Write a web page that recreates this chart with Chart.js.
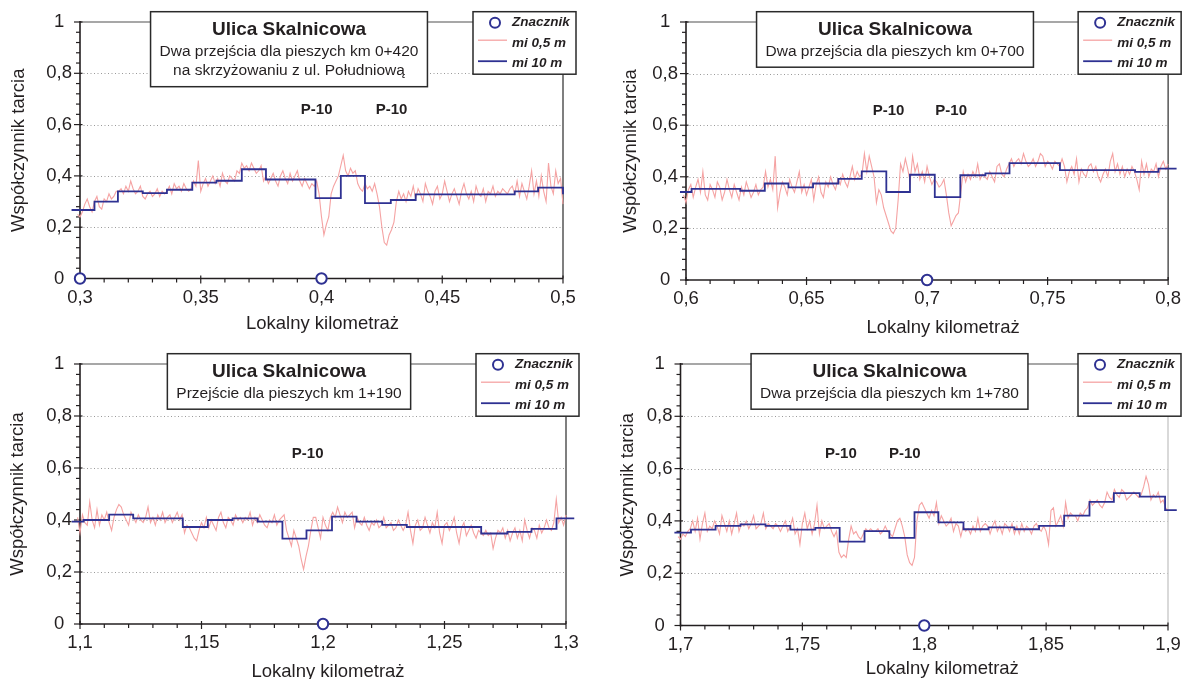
<!DOCTYPE html>
<html>
<head>
<meta charset="utf-8">
<title>Ulica Skalnicowa - współczynnik tarcia</title>
<script src="https://cdn.jsdelivr.net/npm/chart.js@4.4.1/dist/chart.umd.min.js"></script>
<style>
  body { margin: 0; background: #fff; }
  #wrap { position: relative; width: 1189px; height: 679px; overflow: hidden; }
  canvas { position: absolute; }
</style>
</head>
<body>
<div id="wrap">
  <canvas id="c1" width="594" height="340" style="left:0;top:0"></canvas>
  <canvas id="c2" width="595" height="340" style="left:594px;top:0"></canvas>
  <canvas id="c3" width="594" height="339" style="left:0;top:340px"></canvas>
  <canvas id="c4" width="595" height="339" style="left:594px;top:340px"></canvas>
</div>
<script>
const FONT = '"Liberation Sans", Arial, Helvetica, sans-serif';
const INK = '#231f20';
const PINK = '#f5a3a3';
const NAVY = '#2e3192';

const yTickValues = [0, 0.2, 0.4, 0.6, 0.8, 1];
const legendLabels = ['Znacznik', 'mi 0,5 m', 'mi 10 m'];
const signText = 'P-10';
const signLevel = 0.656;
const FINE_STEP = 0.001; // km between samples of the fine trace

// ---- panel 1: km 0+420 ----
const p1Caption = ['Ulica Skalnicowa', 'Dwa przejścia dla pieszych km 0+420', 'na skrzyżowaniu z ul. Południową'];
const p1XTicks = [0.3, 0.35, 0.4, 0.45, 0.5];
const p1Km0 = 0.296;
const p1Fine = [
  0.29,0.27,0.30,0.25,0.24,0.26,0.29,0.31,0.28,0.26,
  0.30,0.32,0.28,0.27,0.31,0.30,0.33,0.31,0.32,0.34,
  0.34,0.35,0.33,0.36,0.34,0.38,0.35,0.33,0.34,0.36,
  0.32,0.31,0.33,0.34,0.32,0.33,0.35,0.32,0.34,0.33,
  0.34,0.36,0.33,0.37,0.35,0.36,0.34,0.37,0.35,0.34,
  0.35,0.38,0.36,0.46,0.34,0.37,0.39,0.36,0.38,0.40,
  0.37,0.39,0.36,0.41,0.38,0.37,0.40,0.39,0.38,0.42,
  0.41,0.45,0.43,0.44,0.42,0.45,0.43,0.41,0.42,0.44,
  0.38,0.40,0.37,0.39,0.41,0.38,0.36,0.40,0.42,0.39,
  0.37,0.41,0.38,0.40,0.42,0.38,0.36,0.39,0.37,0.35,
  0.37,0.36,0.38,0.33,0.24,0.17,0.21,0.24,0.33,0.36,
  0.38,0.40,0.44,0.48,0.42,0.40,0.43,0.41,0.42,0.37,
  0.35,0.34,0.37,0.35,0.36,0.34,0.37,0.33,0.28,0.20,
  0.14,0.13,0.17,0.19,0.22,0.30,0.34,0.31,0.33,0.30,
  0.34,0.32,0.36,0.31,0.35,0.33,0.30,0.37,0.34,0.32,
  0.29,0.34,0.36,0.31,0.33,0.38,0.34,0.30,0.33,0.35,
  0.32,0.29,0.34,0.37,0.33,0.31,0.34,0.30,0.36,0.33,
  0.32,0.35,0.30,0.34,0.33,0.36,0.32,0.34,0.33,0.35,
  0.34,0.33,0.35,0.36,0.33,0.38,0.32,0.37,0.34,0.31,
  0.36,0.42,0.33,0.38,0.32,0.40,0.34,0.30,0.45,0.36,
  0.33,0.42,0.37,0.39,0.29,0.29,0.33,0.35
];
const p1StepEdges = [0.2965, 0.306, 0.3157, 0.326, 0.336, 0.3465, 0.3565, 0.367, 0.377, 0.3975, 0.408, 0.418, 0.4287, 0.439, 0.48, 0.4897, 0.5, 0.5035];
const p1StepVals = [0.267, 0.300, 0.340, 0.333, 0.346, 0.374, 0.381, 0.426, 0.386, 0.313, 0.400, 0.294, 0.306, 0.328, 0.340, 0.354, 0.328];
const p1Markers = [0.3, 0.4];
const p1Signs = [0.398, 0.429];

// ---- panel 2: km 0+700 ----
const p2Caption = ['Ulica Skalnicowa', 'Dwa przejścia dla pieszych km 0+700'];
const p2XTicks = [0.6, 0.65, 0.7, 0.75, 0.8];
const p2Km0 = 0.598;
const p2Fine = [
  0.36,0.33,0.30,0.35,0.37,0.32,0.36,0.39,0.34,0.42,
  0.33,0.31,0.37,0.35,0.32,0.38,0.36,0.31,0.34,0.39,
  0.35,0.32,0.37,0.34,0.31,0.36,0.33,0.38,0.35,0.32,
  0.34,0.37,0.33,0.35,0.36,0.42,0.36,0.39,0.35,0.48,
  0.28,0.34,0.38,0.36,0.33,0.39,0.36,0.34,0.38,0.42,
  0.34,0.37,0.33,0.36,0.39,0.31,0.37,0.40,0.34,0.32,
  0.38,0.36,0.40,0.37,0.35,0.39,0.37,0.41,0.38,0.36,
  0.40,0.44,0.39,0.42,0.40,0.41,0.49,0.42,0.48,0.44,
  0.40,0.30,0.35,0.33,0.28,0.25,0.22,0.19,0.18,0.20,
  0.31,0.45,0.42,0.47,0.43,0.38,0.48,0.42,0.45,0.39,
  0.42,0.38,0.44,0.40,0.37,0.39,0.38,0.36,0.37,0.39,
  0.33,0.26,0.21,0.23,0.25,0.26,0.34,0.42,0.38,0.41,
  0.39,0.42,0.40,0.45,0.39,0.41,0.40,0.39,0.42,0.40,
  0.38,0.44,0.45,0.41,0.40,0.43,0.45,0.47,0.44,0.46,
  0.47,0.45,0.49,0.46,0.44,0.45,0.47,0.44,0.46,0.49,
  0.48,0.44,0.46,0.45,0.43,0.46,0.45,0.44,0.47,0.44,
  0.38,0.42,0.44,0.41,0.47,0.38,0.43,0.41,0.40,0.44,
  0.45,0.42,0.44,0.40,0.38,0.41,0.43,0.40,0.46,0.49,
  0.42,0.45,0.41,0.44,0.40,0.43,0.41,0.44,0.42,0.39,
  0.35,0.46,0.41,0.45,0.40,0.43,0.42,0.45,0.40,0.44,
  0.46,0.43,0.45,0.44,0.41,0.38
];
const p2StepEdges = [0.5975, 0.6023, 0.6225, 0.6327, 0.6425, 0.6527, 0.6632, 0.6729, 0.6831, 0.6929, 0.7032, 0.7138, 0.7242, 0.7342, 0.7551, 0.7863, 0.796, 0.8035];
const p2StepVals = [0.341, 0.353, 0.346, 0.374, 0.359, 0.374, 0.392, 0.421, 0.341, 0.408, 0.321, 0.406, 0.413, 0.453, 0.426, 0.419, 0.432];
const p2Markers = [0.7];
const p2Signs = [0.684, 0.710];

// ---- panel 3: km 1+190 ----
const p3Caption = ['Ulica Skalnicowa', 'Przejście dla pieszych km 1+190'];
const p3XTicks = [1.1, 1.15, 1.2, 1.25, 1.3];
const p3Km0 = 1.097;
const p3Fine = [
  0.43,0.36,0.41,0.35,0.42,0.39,0.38,0.47,0.40,0.37,
  0.44,0.38,0.42,0.40,0.43,0.39,0.36,0.41,0.44,0.46,
  0.45,0.42,0.40,0.38,0.43,0.41,0.39,0.42,0.40,0.39,
  0.41,0.45,0.39,0.41,0.38,0.42,0.40,0.43,0.39,0.41,
  0.42,0.39,0.41,0.43,0.40,0.42,0.35,0.38,0.37,0.35,
  0.33,0.32,0.36,0.39,0.37,0.41,0.37,0.40,0.38,0.36,
  0.41,0.43,0.39,0.37,0.41,0.40,0.38,0.42,0.40,0.41,
  0.39,0.41,0.40,0.43,0.38,0.41,0.39,0.42,0.40,0.38,
  0.37,0.40,0.39,0.42,0.38,0.40,0.41,0.42,0.36,0.33,
  0.30,0.36,0.33,0.30,0.25,0.21,0.26,0.30,0.36,0.41,
  0.41,0.37,0.33,0.41,0.38,0.36,0.41,0.43,0.41,0.45,
  0.42,0.39,0.43,0.41,0.42,0.43,0.37,0.41,0.39,0.38,
  0.41,0.38,0.36,0.39,0.38,0.40,0.37,0.38,0.41,0.37,
  0.38,0.39,0.36,0.37,0.40,0.38,0.36,0.38,0.43,0.36,
  0.31,0.38,0.40,0.36,0.37,0.41,0.38,0.35,0.39,0.37,
  0.43,0.35,0.31,0.38,0.39,0.36,0.38,0.41,0.35,0.31,
  0.37,0.39,0.34,0.36,0.38,0.35,0.33,0.36,0.35,0.34,
  0.36,0.34,0.35,0.29,0.33,0.36,0.35,0.37,0.33,0.36,
  0.32,0.35,0.37,0.33,0.36,0.32,0.40,0.36,0.33,0.37,
  0.36,0.33,0.38,0.35,0.37,0.40,0.37,0.36,0.39,0.48,
  0.39,0.41,0.38,0.42,0.38,0.41,0.43
];
const p3StepEdges = [1.0966, 1.1015, 1.112, 1.1219, 1.1423, 1.1526, 1.1628, 1.1731, 1.1833, 1.1932, 1.2037, 1.2138, 1.2244, 1.2345, 1.2651, 1.2759, 1.2858, 1.2961, 1.3034];
const p3StepVals = [0.394, 0.400, 0.421, 0.406, 0.373, 0.400, 0.406, 0.394, 0.328, 0.360, 0.413, 0.394, 0.381, 0.373, 0.348, 0.354, 0.366, 0.406];
const p3Markers = [1.2];
const p3Signs = [1.1937];

// ---- panel 4: km 1+780 ----
const p4Caption = ['Ulica Skalnicowa', 'Dwa przejścia dla pieszych km 1+780'];
const p4XTicks = [1.7, 1.75, 1.8, 1.85, 1.9];
const p4Km0 = 1.698;
const p4Fine = [
  0.36,0.34,0.33,0.35,0.34,0.36,0.37,0.40,0.36,0.41,
  0.33,0.39,0.43,0.36,0.38,0.37,0.40,0.38,0.35,0.42,
  0.39,0.36,0.40,0.35,0.39,0.43,0.36,0.39,0.38,0.40,
  0.37,0.39,0.42,0.37,0.38,0.39,0.43,0.37,0.39,0.38,
  0.37,0.39,0.38,0.36,0.38,0.40,0.36,0.38,0.41,0.35,
  0.37,0.31,0.39,0.43,0.37,0.40,0.35,0.39,0.46,0.35,
  0.40,0.37,0.38,0.39,0.36,0.34,0.36,0.28,0.26,0.27,
  0.26,0.33,0.38,0.35,0.36,0.34,0.33,0.35,0.37,0.36,
  0.37,0.36,0.36,0.37,0.35,0.36,0.38,0.36,0.35,0.34,
  0.37,0.40,0.41,0.38,0.34,0.27,0.24,0.23,0.26,0.40,
  0.46,0.47,0.45,0.43,0.41,0.44,0.42,0.47,0.39,0.42,
  0.40,0.38,0.39,0.41,0.36,0.39,0.38,0.34,0.38,0.36,
  0.37,0.35,0.38,0.36,0.41,0.36,0.38,0.39,0.38,0.35,
  0.38,0.40,0.36,0.38,0.35,0.39,0.38,0.36,0.39,0.35,
  0.38,0.35,0.39,0.36,0.38,0.37,0.35,0.38,0.39,0.37,
  0.36,0.38,0.36,0.31,0.44,0.45,0.38,0.40,0.42,0.38,
  0.47,0.41,0.43,0.42,0.42,0.40,0.43,0.42,0.44,0.45,
  0.48,0.46,0.47,0.48,0.46,0.45,0.47,0.51,0.49,0.48,
  0.52,0.50,0.49,0.52,0.51,0.48,0.49,0.50,0.51,0.50,
  0.49,0.50,0.53,0.57,0.54,0.48,0.50,0.49,0.51,0.47,
  0.48,0.45,0.44,0.47,0.42,0.44,0.44
];
const p4StepEdges = [1.6975, 1.7043, 1.7144, 1.7246, 1.7349, 1.7451, 1.7553, 1.7653, 1.7755, 1.7857, 1.796, 1.8058, 1.8161, 1.8264, 1.837, 1.8471, 1.8574, 1.8678, 1.8778, 1.8884, 1.8988, 1.9036];
const p4StepVals = [0.355, 0.367, 0.381, 0.387, 0.381, 0.367, 0.373, 0.321, 0.361, 0.335, 0.433, 0.394, 0.368, 0.375, 0.368, 0.381, 0.420, 0.473, 0.506, 0.493, 0.441];
const p4Markers = [1.8];
const p4Signs = [1.7658, 1.792];

// layout of each panel (pixels): y-axis width, x-axis height, paddings, title offsets
const panels = [
  { id: 'c1', caption: p1Caption, xTicks: p1XTicks, km0: p1Km0, fine: p1Fine, edges: p1StepEdges, steps: p1StepVals, markers: p1Markers, signs: p1Signs,
    yW: 80, xH: 61.5, padTop: 22, padRight: 31, yTitleDx: -61, xTitleDx: 1, xTitleDy: 45, rightEdge: '#555' },
  { id: 'c2', caption: p2Caption, xTicks: p2XTicks, km0: p2Km0, fine: p2Fine, edges: p2StepEdges, steps: p2StepVals, markers: p2Markers, signs: p2Signs,
    yW: 92, xH: 60, padTop: 22, padRight: 18, yTitleDx: -55, xTitleDx: 16, xTitleDy: 48, rightEdge: '#555' },
  { id: 'c3', caption: p3Caption, xTicks: p3XTicks, km0: p3Km0, fine: p3Fine, edges: p3StepEdges, steps: p3StepVals, markers: p3Markers, signs: p3Signs,
    yW: 80, xH: 55, padTop: 24, padRight: 28, yTitleDx: -62, xTitleDx: 5, xTitleDy: 47.5, rightEdge: '#555' },
  { id: 'c4', caption: p4Caption, xTicks: p4XTicks, km0: p4Km0, fine: p4Fine, edges: p4StepEdges, steps: p4StepVals, markers: p4Markers, signs: p4Signs,
    yW: 86.5, xH: 53.5, padTop: 24, padRight: 21, yTitleDx: -53, xTitleDx: 18, xTitleDy: 43, rightEdge: '#cccccc' }
];

const fmt = v => String(Math.round(v * 100) / 100).replace('.', ',');

function seg(ctx, x1, y1, x2, y2){
  ctx.beginPath(); ctx.moveTo(x1, y1); ctx.lineTo(x2, y2); ctx.stroke();
}

const framePlugin = {
  id: 'frame',
  beforeDatasetsDraw(chart){
    const p = chart.options.plugins.frame.panel;
    const {ctx, chartArea: a, scales: {x, y}} = chart;
    ctx.save();
    // dotted grid
    ctx.strokeStyle = '#9a9a9a'; ctx.lineWidth = 1; ctx.setLineDash([1, 2.5]);
    yTickValues.slice(1, -1).forEach(v => {
      const py = Math.round(y.getPixelForValue(v)) + 0.5;
      seg(ctx, a.left, py, a.right, py);
    });
    ctx.setLineDash([]);
    // top line at 1
    ctx.strokeStyle = '#8a8a8a'; ctx.lineWidth = 1.3;
    seg(ctx, a.left, a.top, a.right, a.top);
    // right edge
    ctx.strokeStyle = p.rightEdge; ctx.lineWidth = 1.5;
    seg(ctx, a.right, a.top, a.right, a.bottom);
    // axes
    ctx.strokeStyle = INK; ctx.lineWidth = 1.6;
    seg(ctx, a.left, a.top - 1, a.left, a.bottom + 1);
    seg(ctx, a.left, a.bottom, a.right, a.bottom);
    // y ticks, minor every 0.04
    ctx.lineWidth = 1.2;
    for (let i = 0; i <= 25; i++){
      const py = y.getPixelForValue(i * 0.04);
      if (i % 5 === 0) seg(ctx, a.left - 6, py, a.left + 2.5, py);
      else seg(ctx, a.left - 4, py, a.left, py);
    }
    // x ticks, minor every 0.01
    const x0 = p.xTicks[0];
    for (let i = 0; i <= 20; i++){
      const px = x.getPixelForValue(x0 + i * 0.01);
      if (i % 5 === 0) seg(ctx, px, a.bottom - 3, px, a.bottom + 5);
      else seg(ctx, px, a.bottom, px, a.bottom + 4);
    }
    ctx.restore();
  },
  afterDraw(chart){
    const p = chart.options.plugins.frame.panel;
    const {ctx, chartArea: a, scales: {x, y}} = chart;
    ctx.save();
    ctx.fillStyle = INK;
    ctx.textAlign = 'center'; ctx.textBaseline = 'middle';

    // P-10 signs
    ctx.font = 'bold 15px ' + FONT;
    p.signs.forEach(km => ctx.fillText(signText, x.getPixelForValue(km), y.getPixelForValue(signLevel)));

    // axis titles
    ctx.font = '18.5px ' + FONT;
    ctx.fillText('Lokalny kilometraż', (a.left + a.right) / 2 + p.xTitleDx, a.bottom + p.xTitleDy);
    ctx.save();
    ctx.translate(a.left + p.yTitleDx, (a.top + a.bottom) / 2);
    ctx.rotate(-Math.PI / 2);
    ctx.fillText('Współczynnik tarcia', 0, 0);
    ctx.restore();

    // caption box
    const [title, ...sub] = p.caption;
    ctx.font = '15.5px ' + FONT;
    let tw = Math.max(...sub.map(s => ctx.measureText(s).width));
    ctx.font = 'bold 19px ' + FONT;
    tw = Math.max(tw, ctx.measureText(title).width);
    const bw = tw + 18, bh = 36 + 19.5 * sub.length;
    const cx = a.left + 209, top = a.top - 10.3;
    ctx.fillStyle = '#fff';
    ctx.fillRect(cx - bw / 2, top, bw, bh);
    ctx.strokeStyle = '#2a2a2a'; ctx.lineWidth = 1.5;
    ctx.strokeRect(cx - bw / 2, top, bw, bh);
    ctx.fillStyle = INK;
    ctx.fillText(title, cx, top + 18.5);
    ctx.font = '15.5px ' + FONT;
    sub.forEach((s, i) => ctx.fillText(s, cx, top + 40 + 19.5 * i));

    // legend box
    const lx = a.right - 90, ly = a.top - 10.3, lw = 103, lh = 62.5;
    ctx.fillStyle = '#fff';
    ctx.fillRect(lx, ly, lw, lh);
    ctx.strokeRect(lx, ly, lw, lh);
    ctx.lineWidth = 2; ctx.strokeStyle = NAVY;
    ctx.beginPath(); ctx.arc(lx + 22, ly + 11, 5, 0, Math.PI * 2); ctx.stroke();
    ctx.strokeStyle = PINK; ctx.lineWidth = 1.3;
    seg(ctx, lx + 5, ly + 28.5, lx + 34, ly + 28.5);
    ctx.strokeStyle = NAVY; ctx.lineWidth = 1.8;
    seg(ctx, lx + 5, ly + 49.5, lx + 34, ly + 49.5);
    ctx.fillStyle = INK; ctx.textAlign = 'left';
    ctx.font = 'italic bold 13.5px ' + FONT;
    ctx.fillText(legendLabels[0], lx + 39, ly + 11);
    ctx.fillText(legendLabels[1], lx + 39, ly + 31.5);
    ctx.fillText(legendLabels[2], lx + 39, ly + 51.5);
    ctx.restore();
  }
};

function makeChart(p){
  const finePts = p.fine.map((v, i) => ({ x: +(p.km0 + i * FINE_STEP).toFixed(4), y: v }));
  const stepPts = p.edges.map((e, i) => ({ x: e, y: p.steps[Math.min(i, p.steps.length - 1)] }));
  const markerPts = p.markers.map(km => ({ x: km, y: 0 }));
  const tickFont = { family: FONT, size: 18.5 };
  return new Chart(document.getElementById(p.id), {
    type: 'line',
    data: {
      datasets: [
        { label: legendLabels[0], data: markerPts, showLine: false, pointRadius: 5.2, pointBorderWidth: 2,
          pointBorderColor: NAVY, pointBackgroundColor: '#fff', clip: false },
        { label: legendLabels[2], data: stepPts, stepped: 'before', borderColor: NAVY, borderWidth: 1.8,
          pointRadius: 0, fill: false, clip: false },
        { label: legendLabels[1], data: finePts, borderColor: PINK, borderWidth: 1.1,
          pointRadius: 0, fill: false, tension: 0, clip: false }
      ]
    },
    options: {
      responsive: false,
      animation: false,
      events: [],
      layout: { padding: { left: 0, top: p.padTop, right: p.padRight, bottom: 0 } },
      scales: {
        x: {
          type: 'linear', min: p.xTicks[0], max: p.xTicks[p.xTicks.length - 1],
          grid: { display: false, drawTicks: false }, border: { display: false },
          afterBuildTicks: s => { s.ticks = p.xTicks.map(v => ({ value: v })); },
          afterFit: s => { s.height = p.xH; },
          ticks: { callback: v => fmt(v), font: tickFont, color: INK, padding: 8, maxRotation: 0, autoSkip: false }
        },
        y: {
          min: 0, max: 1,
          grid: { display: false, drawTicks: false }, border: { display: false },
          afterBuildTicks: s => { s.ticks = yTickValues.map(v => ({ value: v })); },
          afterFit: s => { s.width = p.yW; },
          ticks: { callback: v => fmt(v), font: tickFont, color: INK, padding: 8, crossAlign: 'center' }
        }
      },
      plugins: { legend: { display: false }, tooltip: { enabled: false }, frame: { panel: p } }
    },
    plugins: [framePlugin]
  });
}

panels.forEach(makeChart);
</script>
</body>
</html>
